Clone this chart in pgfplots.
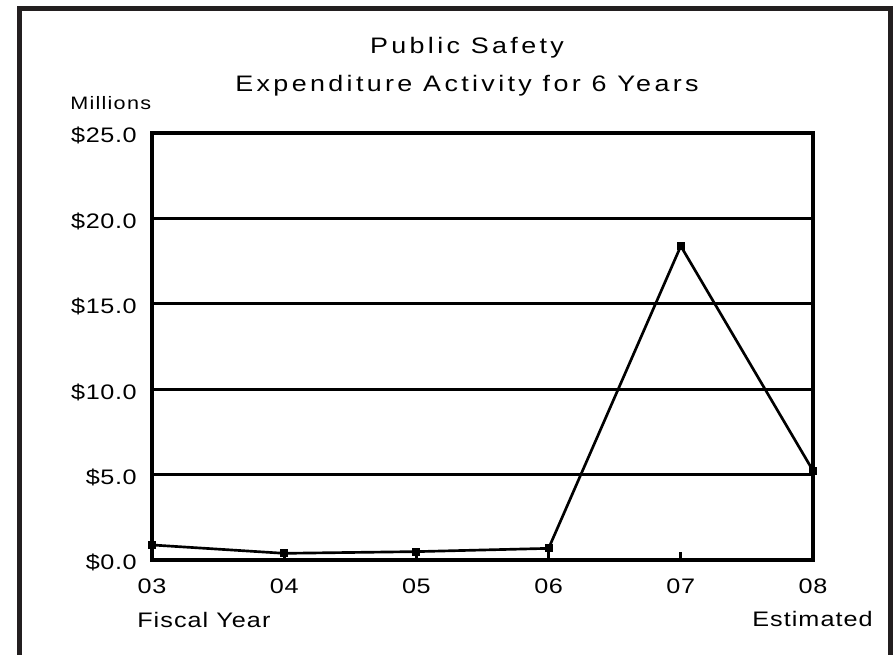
\documentclass[border=0pt]{standalone}
\usepackage{fontspec}
\setmainfont[FakeStretch=1.2]{Liberation Sans}
\newfontfamily\titlefont[FakeStretch=1.2,LetterSpace=15]{Liberation Sans}
\newfontfamily\tickfont[FakeStretch=1.2,LetterSpace=3]{Liberation Sans}
\newfontfamily\labfont[FakeStretch=1.2,LetterSpace=5]{Liberation Sans}
\newfontfamily\milfont[FakeStretch=1.2,LetterSpace=7]{Liberation Sans}
\usepackage{pgfplots}
\pgfplotsset{compat=1.18}
\definecolor{frame}{HTML}{231F20}
\begin{document}
\begin{tikzpicture}[x=0.75pt,y=0.75pt]
\useasboundingbox (0,0) rectangle (894,655);
% outer frame (left, top, right)
\draw[frame, line width=3.75pt, line join=miter] (19,0) -- (19,646) -- (890,646) -- (890,0);
% titles
\node[anchor=base, inner sep=0pt, font=\titlefont\fontsize{16.8}{18}\selectfont] at (467,655-54) {Public Safety};
\node[anchor=base, inner sep=0pt, font=\titlefont\fontsize{16.8}{18}\selectfont] at (467,655-92) {Expenditure Activity for 6 Years};
\node[anchor=base west, inner sep=0pt, font=\milfont\fontsize{13.5}{15}\selectfont] at (70,655-110) {Millions};
\node[anchor=base west, inner sep=0pt, font=\labfont\fontsize{15.75}{17}\selectfont] at (137,655-628) {Fiscal Year};
\node[anchor=base east, inner sep=0pt, font=\labfont\fontsize{15.75}{17}\selectfont] at (873,655-627) {Estimated};
\begin{axis}[
  at={(114pt,71.25pt)}, anchor=south west,
  scale only axis, width=495.75pt, height=320.25pt,
  xmin=0, xmax=5, ymin=0, ymax=25,
  axis line style={line width=2.5pt, black},
  /pgf/number format/assume math mode=true,
  xtick={0,1,2,3,4,5},
  xticklabels={03,04,05,06,07,08},
  ytick={0,5,10,15,20,25},
  yticklabels={\$0.0,\$5.0,\$10.0,\$15.0,\$20.0,\$25.0},
  tick label style={font=\tickfont\fontsize{15.75}{17}\selectfont, inner sep=0pt},
  xticklabel style={anchor=base, yshift=-25.5pt},
  yticklabel style={anchor=base east, xshift=-11.25pt, yshift=-7.5pt},
  xtick pos=lower, tick align=inside,
  major tick length=6pt,
  xtick style={line width=2pt, black},
  ytick style={draw=none},
  ymajorgrids,
  grid style={line width=2.25pt, black},
  clip=false,
]
\addplot[black, line width=2pt, mark=square*, mark size=2pt] coordinates {
  (0,0.88) (1,0.39) (2,0.49) (3,0.68) (4,18.38) (5,5.23)
};
\end{axis}
\end{tikzpicture}
\end{document}
